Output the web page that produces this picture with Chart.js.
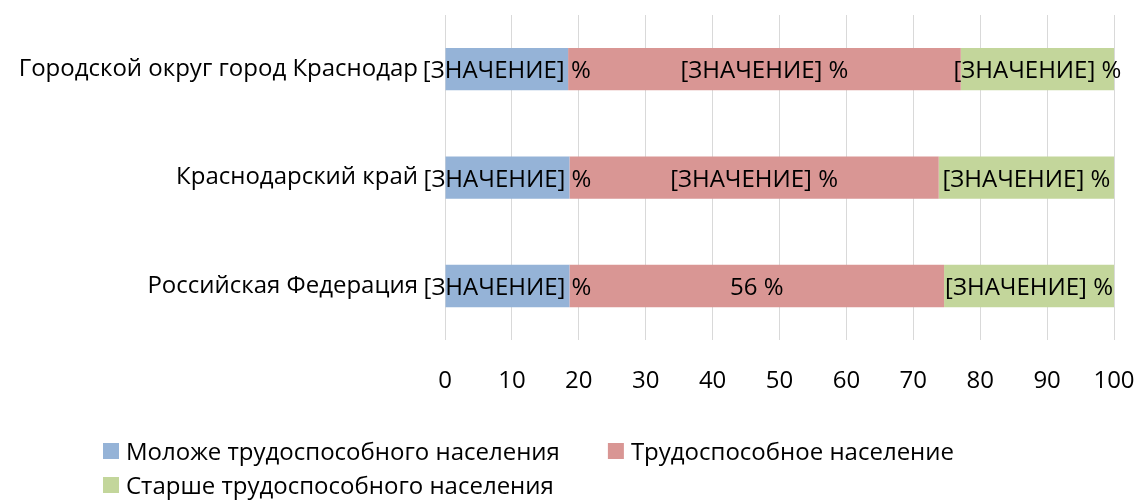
<!DOCTYPE html>
<html>
<head>
<meta charset="utf-8">
<script src="https://cdn.jsdelivr.net/npm/chart.js@4/dist/chart.umd.min.js"></script>
<style>
  html, body { margin: 0; padding: 0; background: #fff; }
  #wrap { width: 1140px; height: 502px; position: relative; }
</style>
</head>
<body>
<div id="wrap"><canvas id="populacaoChart"></canvas></div>
<script>
// данные
const categories = ['Городской округ город Краснодар', 'Краснодарский край', 'Российская Федерация'];
const seriesNames = ['Моложе трудоспособного населения', 'Трудоспособное население', 'Старше трудоспособного населения'];
const younger = [18.4, 18.6, 18.6];
const working = [58.7, 55.2, 56.0];
const older = [22.9, 26.2, 25.4];
const youngerLabels = ['[ЗНАЧЕНИЕ] %', '[ЗНАЧЕНИЕ] %', '[ЗНАЧЕНИЕ] %'];
const workingLabels = ['[ЗНАЧЕНИЕ] %', '[ЗНАЧЕНИЕ] %', '56 %'];
const olderLabels = ['[ЗНАЧЕНИЕ] %', '[ЗНАЧЕНИЕ] %', '[ЗНАЧЕНИЕ] %'];
const xMin = 0, xMax = 100, xStep = 10;

const colors = ['#95B3D7', '#D99694', '#C3D69B'];
const FONT = "'Open Sans', sans-serif";

Chart.defaults.font.family = FONT;
Chart.defaults.font.size = 24;
Chart.defaults.color = '#000';

// подписи значений в центре сегментов
const valueLabels = {
    id: 'valueLabels',
    afterDatasetsDraw(chart) {
        const ctx = chart.ctx;
        ctx.save();
        ctx.font = '24px ' + FONT;
        ctx.fillStyle = '#000';
        ctx.textAlign = 'center';
        ctx.textBaseline = 'alphabetic';
        chart.data.datasets.forEach((ds, i) => {
            chart.getDatasetMeta(i).data.forEach((bar, j) => {
                ctx.fillText(ds.valueLabels[j], (bar.x + bar.base) / 2, bar.y + 9);
            });
        });
        ctx.restore();
    }
};

// легенда как в Excel: строки выровнены по левому краю
const legendRows = [[0, 1], [2]];
const bottomLegend = {
    id: 'bottomLegend',
    afterDraw(chart) {
        const ctx = chart.ctx;
        ctx.save();
        ctx.font = '24px ' + FONT;
        ctx.textAlign = 'left';
        ctx.textBaseline = 'alphabetic';
        legendRows.forEach((row, r) => {
            let x = 103;
            const y = 451 + r * 34;
            row.forEach(i => {
                ctx.fillStyle = colors[i];
                ctx.fillRect(x, y - 8, 16, 16);
                ctx.fillStyle = '#000';
                ctx.fillText(seriesNames[i], x + 23, y + 9);
                x += 23 + ctx.measureText(seriesNames[i]).width + 48;
            });
        });
        ctx.restore();
    }
};

const ctx = document.getElementById('populacaoChart').getContext('2d');
new Chart(ctx, {
    type: 'bar',
    data: {
        labels: categories,
        datasets: [
            { label: seriesNames[0], data: younger, valueLabels: youngerLabels, backgroundColor: colors[0] },
            { label: seriesNames[1], data: working, valueLabels: workingLabels, backgroundColor: colors[1] },
            { label: seriesNames[2], data: older, valueLabels: olderLabels, backgroundColor: colors[2] }
        ]
    },
    options: {
        indexAxis: 'y',
        responsive: true,
        maintainAspectRatio: false,
        animation: false,
        barPercentage: 0.39,
        categoryPercentage: 1,
        layout: { padding: { top: 15, right: 26, bottom: 106, left: 0 } },
        plugins: {
            legend: { display: false },
            tooltip: { enabled: false }
        },
        scales: {
            x: {
                stacked: true,
                min: xMin,
                max: xMax,
                ticks: { stepSize: xStep, padding: 0 },
                grid: { color: '#D9D9D9', lineWidth: 1, drawTicks: true, tickLength: 27, tickColor: 'rgba(0,0,0,0)' },
                border: { display: false }
            },
            y: {
                stacked: true,
                ticks: { padding: 0 },
                grid: { display: false, drawTicks: true, tickLength: 27 },
                border: { display: false },
                afterFit(scale) { scale.width = 445; }
            }
        }
    },
    plugins: [valueLabels, bottomLegend]
});
</script>
</body>
</html>
